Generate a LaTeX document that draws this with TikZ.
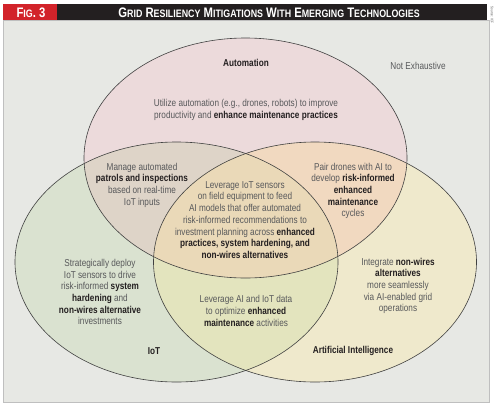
\documentclass[tikz,border=0pt]{standalone}
\usepackage{fontspec}
\setmainfont{Liberation Sans}[FakeStretch=0.82]
\usetikzlibrary{positioning}

\definecolor{panelgray}{HTML}{E7E8E4}
\definecolor{figred}{HTML}{D2232A}
\definecolor{barblack}{HTML}{231F20}
\definecolor{autopink}{HTML}{ECDADB}
\definecolor{iotgreen}{HTML}{DAE2D0}
\definecolor{aicream}{HTML}{EFE9CC}
\definecolor{autoiot}{HTML}{DED4C8}
\definecolor{autoai}{HTML}{F1D9C0}
\definecolor{iotai}{HTML}{E3E4BE}
\definecolor{allthree}{HTML}{EAD9B8}
\definecolor{inkdark}{HTML}{231F20}
\definecolor{inkgray}{HTML}{58595B}

% bold phrases in the notes
\newcommand\hl[1]{{\bfseries\color{inkdark}#1}}
% fake small caps for the title
\newcommand\fsc[2]{#1{\fontsize{10.8}{11}\selectfont #2}}

\begin{document}
\begin{tikzpicture}[
    x=1pt, y=-1pt,
    % ellipse outlines
    ring/.style={draw=black!75, line width=0.6pt},
    % circle titles
    settitle/.style={font=\bfseries\fontsize{10}{12}\selectfont, text=inkdark},
    % region texts
    note/.style={align=center, text=inkgray,
        font=\fontsize{10}{11.7}\selectfont},
    % title bar texts
    bartext/.style={text=white, inner sep=0pt,
        font=\bfseries\fontsize{13.8}{14}\selectfont},
    ]
    \useasboundingbox (0,0) rectangle (500,405);

    % panel and title bar
    \fill[panelgray, draw=black!25, line width=0.8pt] (3,20) rectangle (489,402);
    \fill[barblack] (3,4) rectangle (487,20);
    \fill[figred] (3,4) rectangle (57,20);
    \node[bartext] (fig) at (31,12.3) {\fsc{F}{IG}. 3};
    \node[bartext] (title) at (269,12.3)
        {\fsc{G}{RID} \fsc{R}{ESILIENCY} \fsc{M}{ITIGATIONS} \fsc{W}{ITH}
         \fsc{E}{MERGING} \fsc{T}{ECHNOLOGIES}};
    \node[rotate=-90, text=black!70, font=\fontsize{3.6}{4}\selectfont] (source)
        at (492,15) {Source: ICF};

    % circle centres
    \coordinate (autoc) at (245.5,158);
    \coordinate (iotc) at (176.5,262);
    \coordinate (aic) at (315,262);
    \def\rx{161.5}
    \def\ry{120}

    % single sets
    \fill[autopink] (autoc) ellipse [x radius=\rx, y radius=\ry];
    \fill[iotgreen] (iotc) ellipse [x radius=\rx, y radius=\ry];
    \fill[aicream] (aic) ellipse [x radius=\rx, y radius=\ry];
    % pairwise overlaps
    \begin{scope}
        \clip (autoc) ellipse [x radius=\rx, y radius=\ry];
        \fill[autoiot] (iotc) ellipse [x radius=\rx, y radius=\ry];
        \fill[autoai] (aic) ellipse [x radius=\rx, y radius=\ry];
    \end{scope}
    \begin{scope}
        \clip (iotc) ellipse [x radius=\rx, y radius=\ry];
        \fill[iotai] (aic) ellipse [x radius=\rx, y radius=\ry];
    \end{scope}
    % all three
    \begin{scope}
        \clip (autoc) ellipse [x radius=\rx, y radius=\ry];
        \clip (iotc) ellipse [x radius=\rx, y radius=\ry];
        \fill[allthree] (aic) ellipse [x radius=\rx, y radius=\ry];
    \end{scope}
    % outlines
    \draw[ring] (autoc) ellipse [x radius=\rx, y radius=\ry];
    \draw[ring] (iotc) ellipse [x radius=\rx, y radius=\ry];
    \draw[ring] (aic) ellipse [x radius=\rx, y radius=\ry];

    % set names
    \node[settitle] (automation) at (246,63) {Automation};
    \node[settitle] (iot) at (154,351) {IoT};
    \node[settitle] (ai) at (353,351) {Artificial Intelligence};
    \node[note] (notexh) at (418,66) {Not Exhaustive};

    % region texts
    \node[note] (autoonly) at (246,110)
        {Utilize automation (e.g., drones, robots) to improve\\
         productivity and \hl{enhance maintenance practices}};
    \node[note] (autoiotn) at (142,185)
        {Manage automated\\ \hl{patrols and inspections}\\
         based on real-time\\ IoT inputs};
    \node[note] (autoain) at (353,191)
        {Pair drones with AI to\\ develop \hl{risk-informed}\\
         \hl{enhanced}\\ \hl{maintenance}\\ cycles};
    \node[note] (centre) at (245,220)
        {Leverage IoT sensors\\ on field equipment to feed\\
         AI models that offer automated\\ risk-informed recommendations to\\
         investment planning across \hl{enhanced}\\
         \hl{practices, system hardening, and}\\ \hl{non-wires alternatives}};
    \node[note] (iotonly) at (100,292)
        {Strategically deploy\\ IoT sensors to drive\\
         risk-informed \hl{system}\\ \hl{hardening} and\\
         \hl{non-wires alternative}\\ investments};
    \node[note] (iotain) at (246,311)
        {Leverage AI and IoT data\\ to optimize \hl{enhanced}\\
         \hl{maintenance} activities};
    \node[note] (aionly) at (398,286)
        {Integrate \hl{non-wires}\\ \hl{alternatives}\\ more seamlessly\\
         via AI-enabled grid\\ operations};

\end{tikzpicture}
\end{document}
